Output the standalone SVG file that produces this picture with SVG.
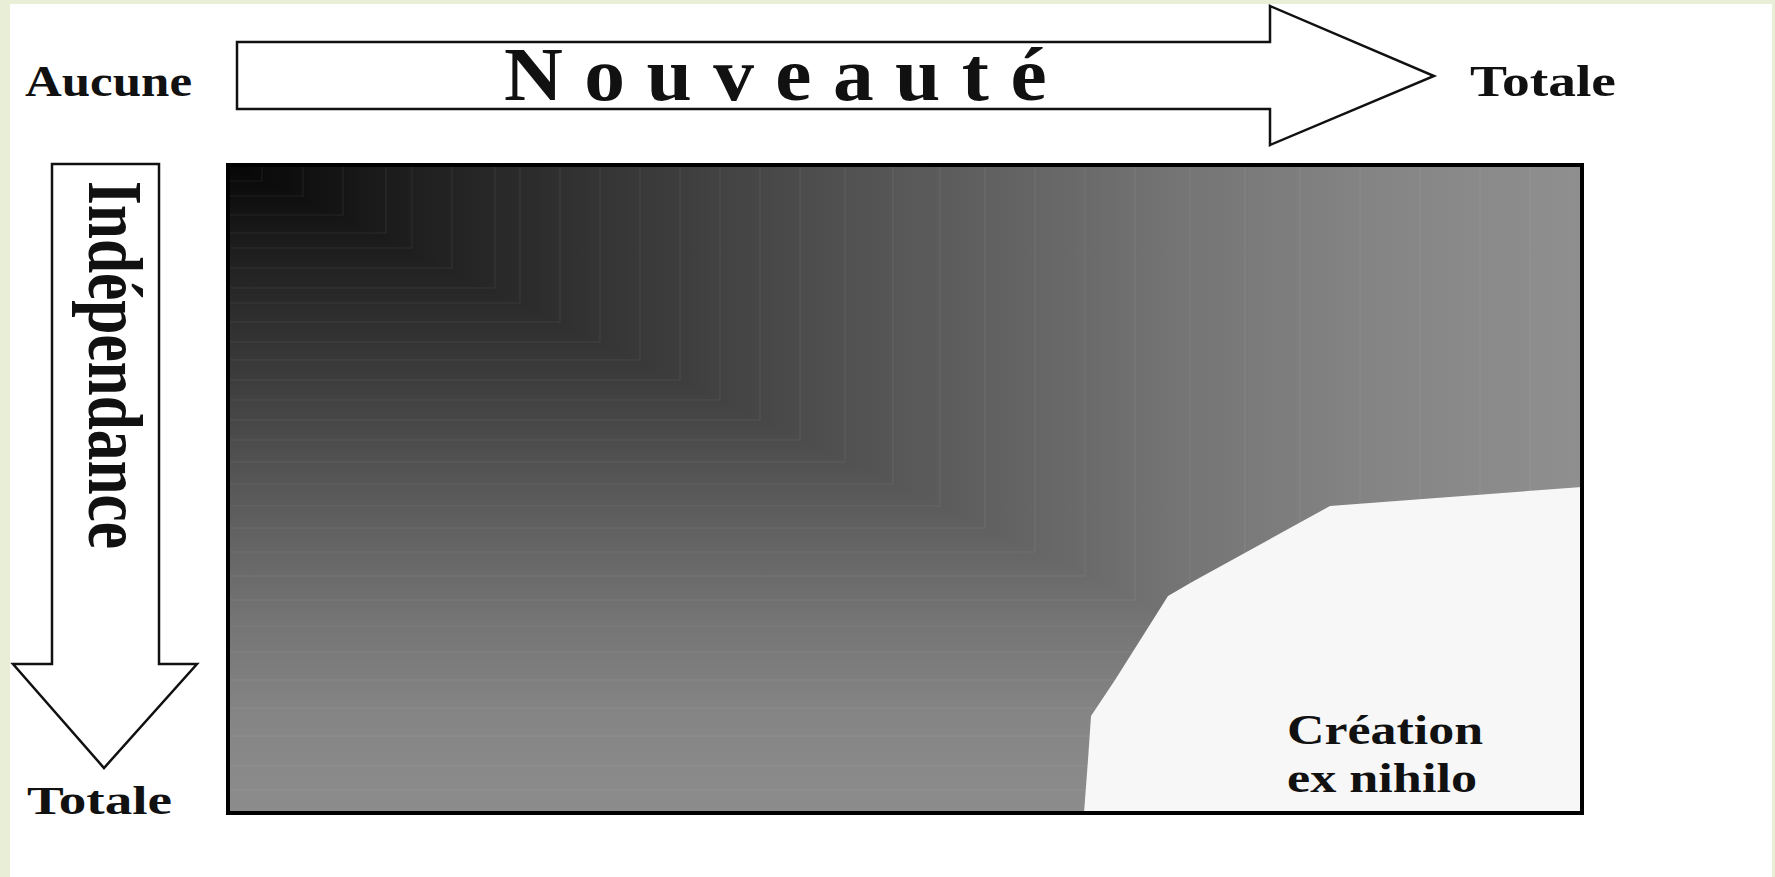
<svg xmlns="http://www.w3.org/2000/svg" width="1775" height="877" viewBox="0 0 1775 877">
  <style>
    .lbl { font-family: "Liberation Serif", "Times New Roman", serif; font-weight: bold; fill: #111; }
    .arrow { fill: #ffffff; stroke: #111; stroke-width: 2.5; stroke-linejoin: miter; }
    .frame { fill: none; stroke: #000; stroke-width: 4; }
    .band { fill: none; stroke: #ffffff; stroke-opacity: 0.07; stroke-width: 1.2; }
  </style>
  <defs>
    <linearGradient id="gx" gradientUnits="userSpaceOnUse" x1="228" y1="0" x2="1582" y2="0">
      <stop offset="0" stop-color="#060606"/>
      <stop offset="0.12" stop-color="#1c1c1c"/>
      <stop offset="0.3" stop-color="#383838"/>
      <stop offset="0.5" stop-color="#585858"/>
      <stop offset="0.7" stop-color="#747474"/>
      <stop offset="0.85" stop-color="#858585"/>
      <stop offset="1" stop-color="#8f8f8f"/>
    </linearGradient>
    <linearGradient id="gy" gradientUnits="userSpaceOnUse" x1="0" y1="165" x2="0" y2="813">
      <stop offset="0" stop-color="#060606"/>
      <stop offset="0.12" stop-color="#1c1c1c"/>
      <stop offset="0.3" stop-color="#383838"/>
      <stop offset="0.5" stop-color="#585858"/>
      <stop offset="0.7" stop-color="#747474"/>
      <stop offset="0.85" stop-color="#858585"/>
      <stop offset="1" stop-color="#8c8c8c"/>
    </linearGradient>
  </defs>

  <!-- page -->
  <rect x="0" y="0" width="1775" height="877" fill="#e9eed6"/>
  <rect x="10" y="4" width="1762" height="873" fill="#ffffff"/>

  <g id="connectors">
    <g id="axis-nouveaute">
      <polygon class="arrow" points="237,42 1270,42 1270,6 1434,76 1270,145 1270,109 237,109"/>
      <text class="lbl" x="504" y="100" font-size="76" textLength="564" lengthAdjust="spacingAndGlyphs" letter-spacing="20">Nouveauté</text>
    </g>
    <g id="axis-independance">
      <polygon class="arrow" points="52,164 159,164 159,664 197,664 104,768 13,664 52,664"/>
      <text class="lbl" font-size="61" textLength="368" lengthAdjust="spacingAndGlyphs" transform="translate(89,181) scale(1.3,1) rotate(90)">Indépendance</text>
    </g>
  </g>

  <g id="label-aucune">
    <text class="lbl" x="25" y="96" font-size="44" textLength="167" lengthAdjust="spacingAndGlyphs">Aucune</text>
  </g>
  <g id="label-totale-nouveaute">
    <text class="lbl" x="1470" y="96" font-size="44" textLength="146" lengthAdjust="spacingAndGlyphs">Totale</text>
  </g>
  <g id="label-totale-independance">
    <text class="lbl" x="27" y="814" font-size="41" textLength="145" lengthAdjust="spacingAndGlyphs">Totale</text>
  </g>

  <g id="chart">
    <rect x="228" y="165" width="1354" height="648" fill="url(#gy)"/>
    <polygon points="228,165 1582,165 1582,813" fill="url(#gx)"/>
    <g id="bands">
      <path class="band" d="M230,181 H262 V167"/>
      <path class="band" d="M230,196 H303 V167"/>
      <path class="band" d="M230,215 H343 V167"/>
      <path class="band" d="M230,233 H386 V167"/>
      <path class="band" d="M230,248 H412 V167"/>
      <path class="band" d="M230,268 H452 V167"/>
      <path class="band" d="M230,288 H495 V167"/>
      <path class="band" d="M230,303 H520 V167"/>
      <path class="band" d="M230,322 H560 V167"/>
      <path class="band" d="M230,342 H600 V167"/>
      <path class="band" d="M230,360 H640 V167"/>
      <path class="band" d="M230,380 H680 V167"/>
      <path class="band" d="M230,400 H720 V167"/>
      <path class="band" d="M230,420 H760 V167"/>
      <path class="band" d="M230,440 H800 V167"/>
      <path class="band" d="M230,462 H845 V167"/>
      <path class="band" d="M230,484 H893 V167"/>
      <path class="band" d="M230,506 H940 V167"/>
      <path class="band" d="M230,528 H985 V167"/>
      <path class="band" d="M230,552 H1035 V167"/>
      <path class="band" d="M230,576 H1085 V167"/>
      <path class="band" d="M230,600 H1135 V167"/>
      <path class="band" d="M230,626 H1190 V167"/>
      <path class="band" d="M230,652 H1245 V167"/>
      <path class="band" d="M230,680 H1300 V167"/>
      <path class="band" d="M230,708 H1360 V167"/>
      <path class="band" d="M230,736 H1420 V167"/>
      <path class="band" d="M230,766 H1480 V167"/>
      <path class="band" d="M230,790 H1530 V167"/>
    </g>
    <polygon id="creation-zone" fill="#f7f7f7" points="1084,813 1088,760 1091,716 1115,680 1168,596 1192,582 1330,506 1582,487 1582,813"/>
    <rect class="frame" x="228" y="165" width="1354" height="648"/>
  </g>

  <g id="label-creation">
    <text class="lbl" x="1287" y="744" font-size="43" textLength="196" lengthAdjust="spacingAndGlyphs">Création</text>
    <text class="lbl" x="1287" y="792" font-size="43" textLength="190" lengthAdjust="spacingAndGlyphs">ex nihilo</text>
  </g>
</svg>
